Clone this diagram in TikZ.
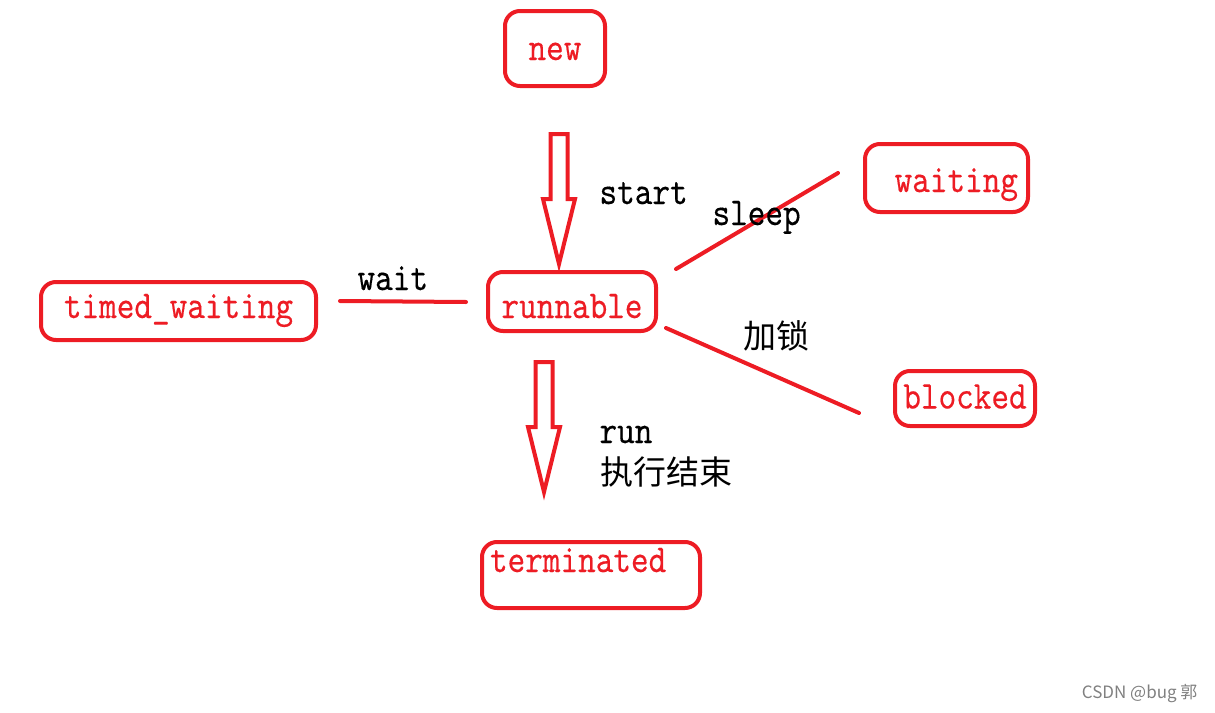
\documentclass[tikz,border=0pt]{standalone}
\usepackage{fontspec}
\usetikzlibrary{calc}
\newfontfamily\monofont[Extension=.otf, FakeStretch=0.85, FakeBold=0.3]{lmmono10-regular}
\newfontfamily\cjk{Noto Sans CJK SC}
\definecolor{paintred}{RGB}{237,28,36}

\tikzset{
    state/.style={draw=paintred, line width=4pt, rounded corners=15pt, text=paintred,
        font=\monofont\fontsize{39.5}{39.5}\selectfont, inner sep=0pt, text height=17pt, text depth=0pt},
    link/.style={draw=paintred, line width=4pt, line cap=round},
    label text/.style={anchor=base west, font=\monofont\fontsize{39.5}{39.5}\selectfont},
    cjk text/.style={anchor=base west, font=\cjk\fontsize{33}{33}\selectfont},
    fat arrow/.pic={
        \draw[paintred, line width=4pt, line join=miter]
            (-8.5,0) -- (8.5,0) -- (8.5,65) -- (16,65) -- (0,130) -- (-16,65) -- (-8.5,65) -- cycle;
    }
}

\begin{document}
\begin{tikzpicture}[x=1pt, y=-1pt]
    \useasboundingbox (0,0) rectangle (1215,712);

    % states
    \node[state, minimum width=100, minimum height=75, text height=23pt] (new) at (555,48.5) {new};
    \node[state, minimum width=163, minimum height=68, text height=28pt, text width=143pt, align=right] (waiting) at (946.5,178) {waiting};
    \node[state, minimum width=168, minimum height=59, text height=33pt] (runnable) at (572,301.5) {runnable};
    \node[state, minimum width=275, minimum height=58, text height=22pt, text depth=8pt] (timed) at (178.5,311) {timed\_waiting};
    \node[state, minimum width=140, minimum height=55, text height=20pt] (blocked) at (965,398.5) {blocked};
    \node[state, minimum width=218, minimum height=66, text height=20pt, text depth=26pt, text width=202pt, align=left] (terminated) at (591,575) {terminated};

    % transitions
    \pic (start arrow) at ($(new.south)+(4,46)$) {fat arrow};
    \pic (run arrow) at ($(runnable.south)+(-28,29)$) {fat arrow};
    \draw[link] ($(runnable.north east)+(18,-1)$) -- ($(waiting.west)+(-25,-5)$);
    \draw[link] ($(runnable.south east)+(8,-5)$) -- ($(blocked.west)+(-34,14.5)$);
    \draw[link] ($(timed.east)+(22,-10)$) -- ($(runnable.west)+(-20,0.5)$);

    % labels
    \node[label text] (start) at (596,204) {start};
    \node[label text] (sleep) at (709,225) {sleep};
    \node[label text] (wait) at (354,290) {wait};
    \node[label text] (run) at (596,443) {run};
    \node[cjk text] (finish) at (597,484) {执行结束};
    \node[cjk text] (lock) at (740,348) {加锁};

    \node[anchor=base east, text=gray, font=\cjk\fontsize{17}{17}\selectfont] (mark) at (1201,698) {CSDN @bug 郭};
\end{tikzpicture}
\end{document}
